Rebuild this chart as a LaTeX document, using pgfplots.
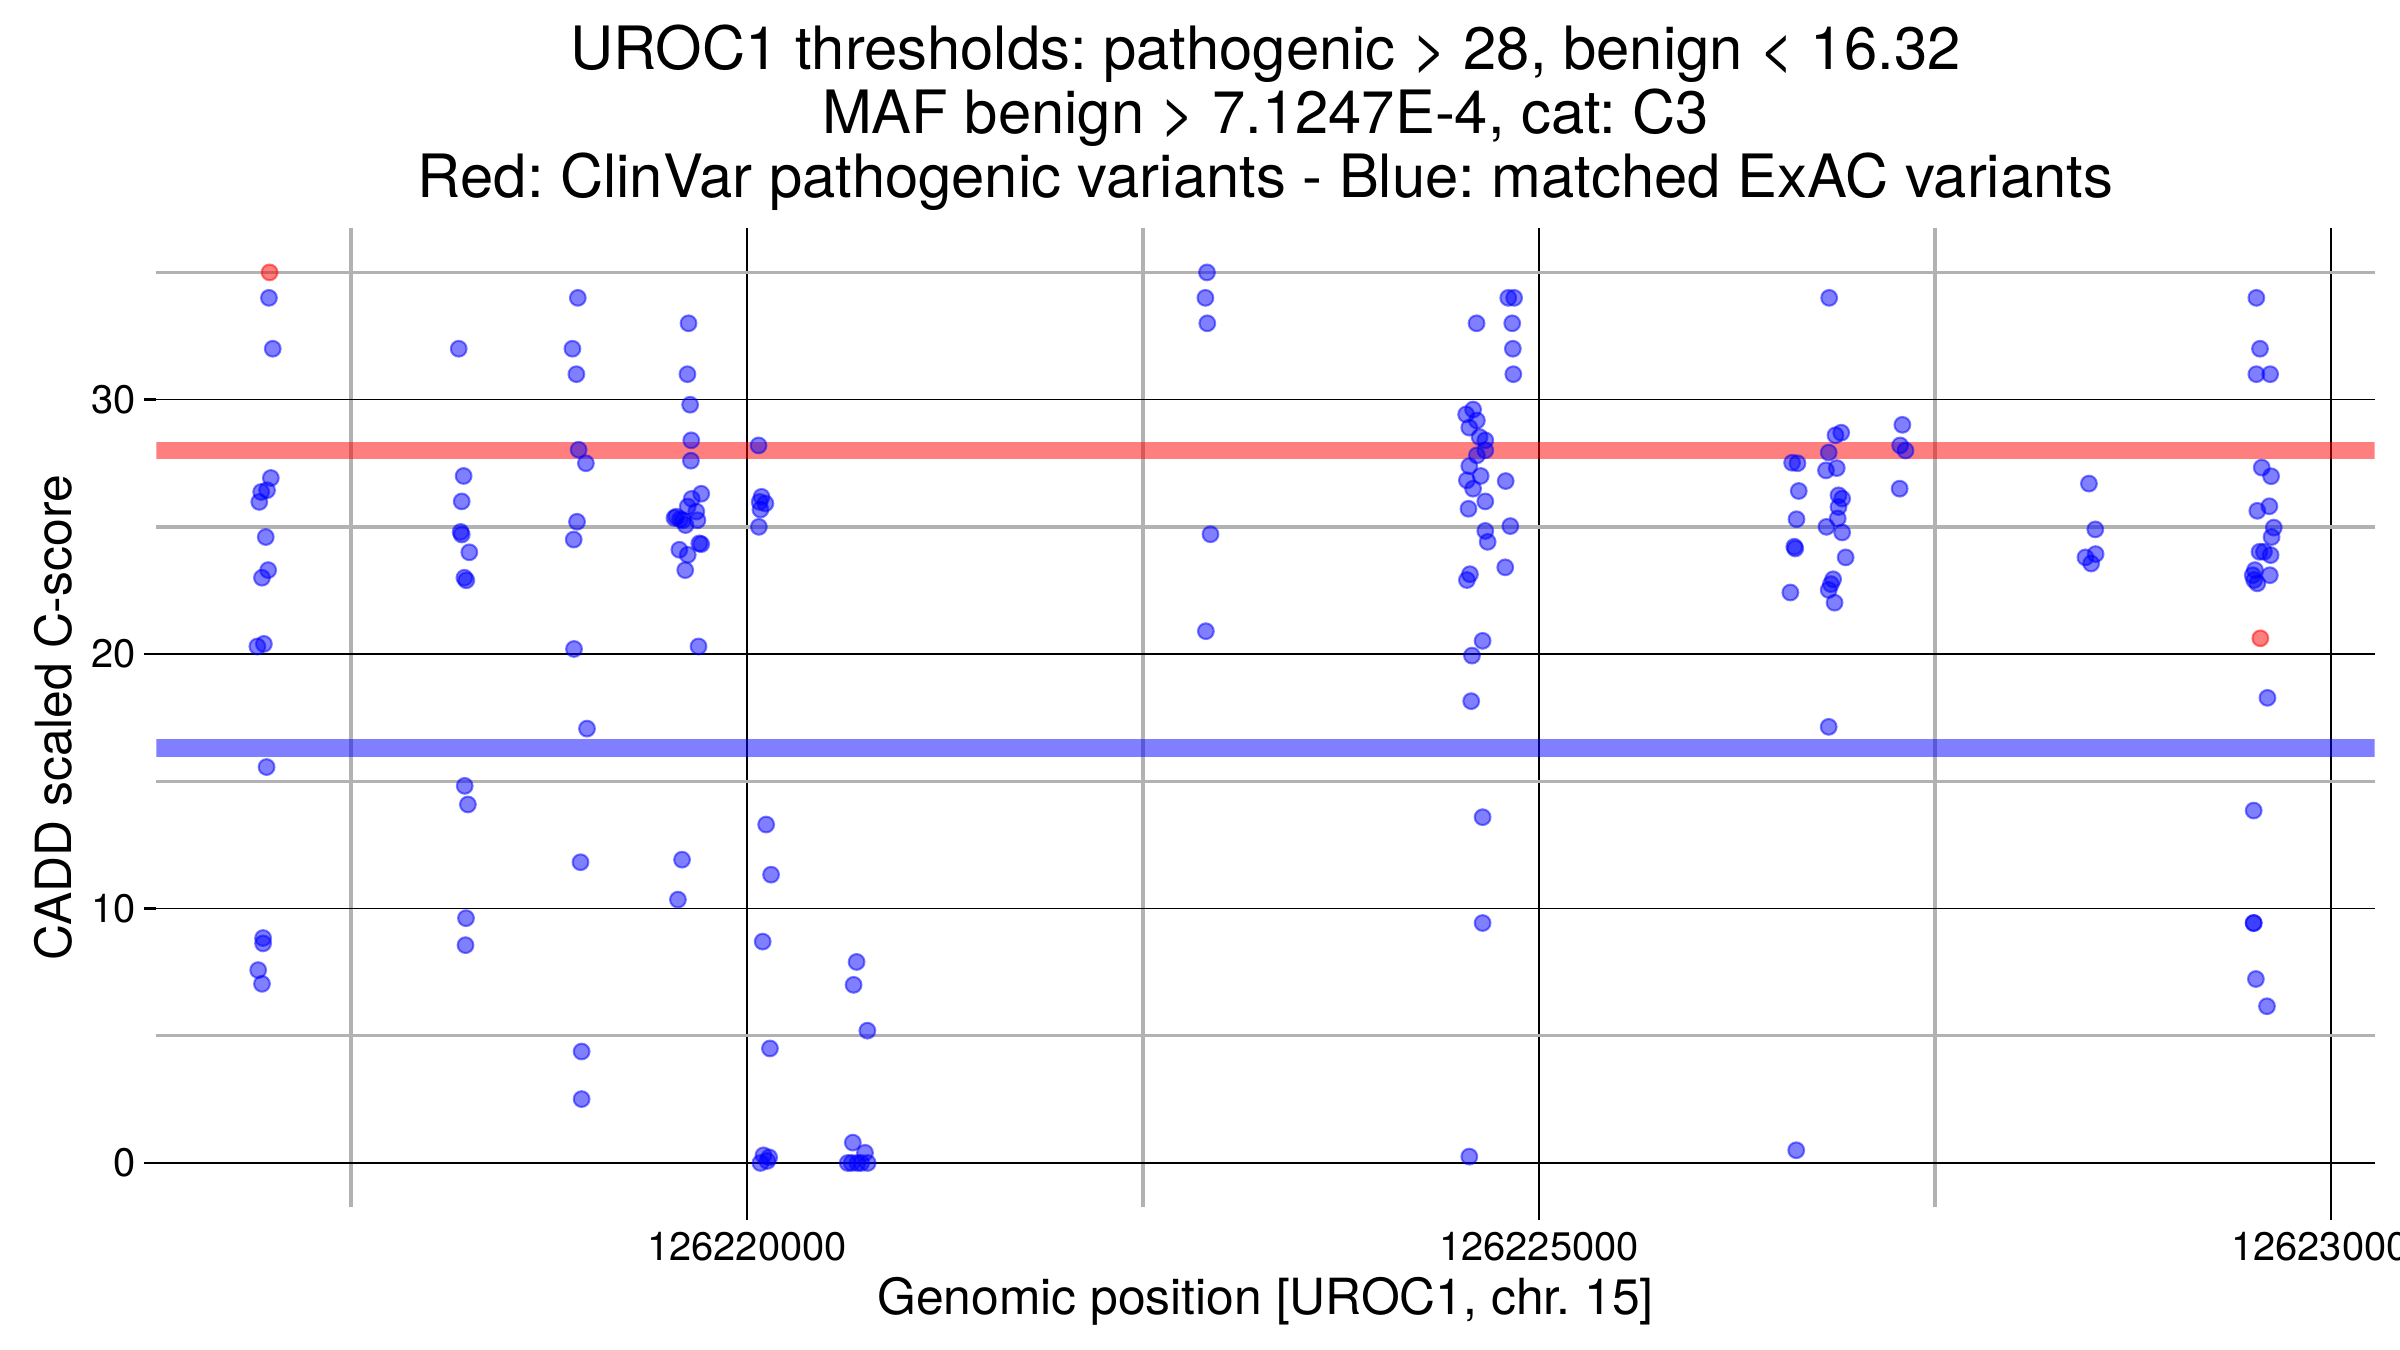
\documentclass[border=0pt]{standalone}
\usepackage{fontspec}
\setmainfont{TeX Gyre Heros}
\usepackage{pgfplots}
\pgfplotsset{compat=1.18}
\usepackage{pgfplotstable}
\frenchspacing
% x = genomic position - 126220000 (bp), y = CADD scaled C-score
\pgfplotstableread{
x y
-3018 34.0
-2994 32.0
-3006 26.92
-3030 26.44
-3067 26.37
-3079 25.98
-3038 24.6
-3023 23.3
-3062 23.0
-3091 20.3
-3050 20.4
-3033 15.56
-3055 8.84
-3055 8.63
-3086 7.58
-3062 7.04
-1820 32.0
-1789 27.0
-1801 26.0
-1808 24.8
-1801 24.7
-1753 24.0
-1784 23.0
-1772 22.9
-1782 14.82
-1762 14.09
-1774 9.62
-1777 8.56
-1068 34.0
-1102 32.0
-1077 31.0
-1063 28.03
-1017 27.5
-1073 25.2
-1094 24.5
-1092 20.2
-1010 17.07
-1051 11.82
-1044 4.38
-1044 2.51
-369 33.0
-376 31.0
-359 29.8
-352 28.4
-354 27.6
-289 26.3
-349 26.1
-374 25.8
-320 25.6
-458 25.35
-446 25.4
-422 25.3
-405 25.26
-313 25.26
-388 25.07
-289 24.32
-301 24.35
-427 24.1
-374 23.9
-390 23.3
-306 20.3
-410 11.92
-436 10.35
73 28.2
92 26.18
116 25.92
80 25.98
85 25.68
75 25.0
121 13.3
152 11.33
99 8.7
145 4.5
104 0.3
140 0.22
128 0.08
85 0.0
692 7.9
673 7.0
760 5.2
668 0.8
745 0.4
636 0.0
661 0.0
697 0.0
721 0.0
762 0.0
2904 35.0
2894 34.0
2906 33.0
2926 24.71
2897 20.9
4584 29.61
4540 29.42
4608 29.18
4560 28.90
4625 28.53
4661 28.40
4661 28.01
4608 27.81
4560 27.39
4632 27.0
4545 26.83
4584 26.5
4661 26.0
4555 25.71
4661 24.84
4676 24.41
4564 23.14
4545 22.91
4644 20.52
4577 19.94
4606 33.0
4806 34.0
4843 34.0
4831 33.0
4835 32.0
4838 31.0
4790 26.8
4819 25.03
4787 23.41
4572 18.15
4644 13.59
4644 9.43
4560 0.25
6832 34.0
6908 28.70
6872 28.6
6829 27.92
6598 27.52
6632 27.5
6812 27.22
6880 27.31
6640 26.41
6891 26.24
6914 26.11
6891 25.78
6626 25.3
6886 25.33
6815 25.0
6914 24.78
6612 24.22
6618 24.15
6936 23.8
6857 22.94
6843 22.75
6829 22.52
6866 22.02
6587 22.42
6829 17.14
6624 0.5
7294 29.01
7280 28.2
7314 28.0
7277 26.5
8472 26.7
8512 24.9
8514 23.93
8450 23.8
8486 23.56
9529 34.0
9552 32.0
9529 31.0
9616 31.0
9563 27.33
9622 26.99
9611 25.81
9535 25.63
9639 24.97
9625 24.6
9549 24.02
9577 24.02
9619 23.89
9520 23.3
9506 23.1
9614 23.1
9515 22.91
9535 22.78
9599 18.28
9512 13.85
9512 9.43
9512 9.43
9526 7.23
9596 6.16
}\benign
\pgfplotstableread{
x y
-3014 35.0
9554 20.62
}\pathogenic
\begin{document}
\begin{tikzpicture}
\begin{axis}[
  scale only axis,
  width=534.4pt, height=236.0pt,
  xmin=-3728, xmax=10276,
  ymin=-1.75, ymax=36.75,
  axis line style={draw=none},
  scaled x ticks=false, scaled y ticks=false,
  xtick={0,5000,10000},
  xticklabels={126220000,126225000,126230000},
  minor xtick={-2500,2500,7500},
  ytick={0,10,20,30},
  yticklabels={0,10,20,30},
  minor ytick={5,15,25,35},
  xtick pos=left, ytick pos=left,
  tick align=outside,
  major tick length=2.9pt,
  minor tick length=0pt,
  every tick/.style={black, line width=0.65pt},
  grid=both,
  major grid style={black, line width=0.35pt},
  minor grid style={black!30, line width=0.8pt},
  /pgf/number format/assume math mode=true,
  tick label style={font=\fontsize{9.6}{11}\selectfont, black},
  xticklabel style={anchor=base, inner sep=0pt, yshift=-9.9pt},
  yticklabel style={anchor=east, inner sep=0pt, xshift=-1.9pt},
  xlabel={Genomic position [UROC1, chr. 15]},
  ylabel={CADD scaled C-score},
  label style={font=\fontsize{12}{14}\selectfont},
  xlabel style={at={(axis description cs:0.5,0)}, anchor=base, inner sep=0pt, yshift=-25.8pt},
  ylabel style={at={(axis description cs:-0.0385,0.5)}, anchor=base, inner sep=0pt},
  title={UROC1 thresholds: pathogenic > 28, benign < 16.32\\MAF benign > 7.1247E-4, cat: C3\\Red: ClinVar pathogenic variants - Blue: matched ExAC variants},
  title style={font=\fontsize{14.4}{15.42}\selectfont, align=center, at={(axis description cs:0.5,1)}, anchor=south, inner sep=0pt, yshift=-2pt},
]
\addplot[draw=red, draw opacity=0.5, line width=4.3pt, forget plot] coordinates {(-3728,28) (10276,28)};
\addplot[draw=blue, draw opacity=0.5, line width=4.3pt, forget plot] coordinates {(-3728,16.32) (10276,16.32)};
\addplot[only marks, mark=*, mark size=1.9pt, blue,
  mark options={fill=blue, draw=blue, fill opacity=0.5, draw opacity=0.5, line width=0.5pt}] table {\benign};
\addplot[only marks, mark=*, mark size=1.9pt, red,
  mark options={fill=red, draw=red, fill opacity=0.5, draw opacity=0.5, line width=0.5pt}] table {\pathogenic};
\end{axis}
\pgfresetboundingbox
\useasboundingbox (-37.7pt,-34.2pt) rectangle (540.5pt,290.9pt);
\end{tikzpicture}
\end{document}
